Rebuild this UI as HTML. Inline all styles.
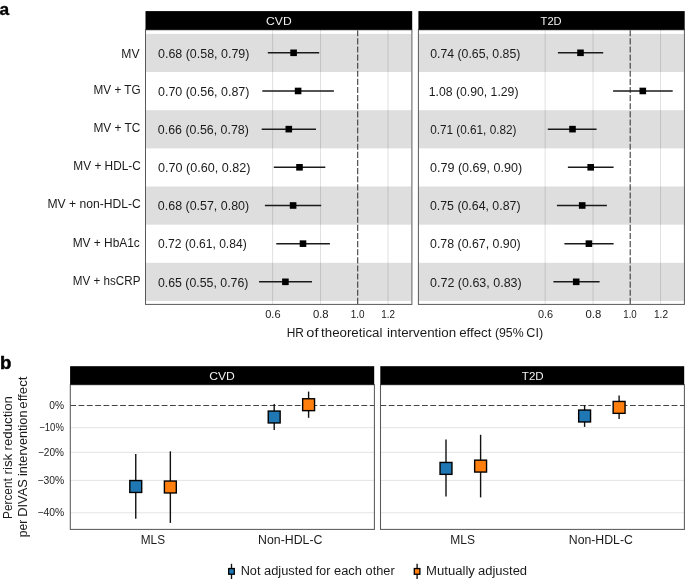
<!DOCTYPE html>
<html lang="en"><head><meta charset="utf-8"><title>Figure</title>
<style>
html,body{margin:0;padding:0;background:#fff;}
body{width:685px;height:579px;overflow:hidden;}
svg{display:block;}
text{font-family:"Liberation Sans", sans-serif;fill:#1a1a1a;}
.t12{font-size:12px;}
.t10{font-size:10.3px;}
.hd{font-size:11.7px;fill:#f2f2f2;}
.lab{font-size:17.5px;font-weight:bold;fill:#000;stroke:#000;stroke-width:0.45px;}
</style></head><body>
<svg width="685" height="579" viewBox="0 0 685 579">
<rect x="0" y="0" width="685" height="579" fill="#fff"/>

<text class="lab" x="-0.5" y="14.75" style="font-size:17.3px;stroke-width:0.35px">a</text>
<text class="t12" x="121.27" y="57.80" textLength="18.21" lengthAdjust="spacingAndGlyphs">MV</text>
<text class="t12" x="93.55" y="93.80" textLength="47.07" lengthAdjust="spacingAndGlyphs">MV + TG</text>
<text class="t12" x="93.42" y="131.70" textLength="47.00" lengthAdjust="spacingAndGlyphs">MV + TC</text>
<text class="t12" x="73.33" y="170.10" textLength="67.51" lengthAdjust="spacingAndGlyphs">MV + HDL-C</text>
<text class="t12" x="47.46" y="208.10" textLength="93.24" lengthAdjust="spacingAndGlyphs">MV + non-HDL-C</text>
<text class="t12" x="72.63" y="246.50" textLength="67.20" lengthAdjust="spacingAndGlyphs">MV + HbA1c</text>
<text class="t12" x="72.86" y="284.70" textLength="67.56" lengthAdjust="spacingAndGlyphs">MV + hsCRP</text>
<rect x="145.5" y="33.90" width="265.80" height="38.15" fill="#dedede"/>
<rect x="145.5" y="110.20" width="265.80" height="38.15" fill="#dedede"/>
<rect x="145.5" y="186.50" width="265.80" height="38.15" fill="#dedede"/>
<rect x="145.5" y="262.80" width="265.80" height="38.15" fill="#dedede"/>
<line x1="272.65" x2="272.65" y1="29.8" y2="304.4" stroke="#000" stroke-opacity="0.17" stroke-width="0.75"/>
<line x1="320.55" x2="320.55" y1="29.8" y2="304.4" stroke="#000" stroke-opacity="0.17" stroke-width="0.75"/>
<line x1="388.06" x2="388.06" y1="29.8" y2="304.4" stroke="#000" stroke-opacity="0.17" stroke-width="0.75"/>
<line x1="357.70" x2="357.70" y1="30.2" y2="304.4" stroke="#3c3c3c" stroke-width="1.1" stroke-dasharray="6.1 2.01"/>
<line x1="267.80" x2="319.20" y1="52.80" y2="52.80" stroke="#1a1a1a" stroke-width="1.5"/>
<rect x="290.30" y="49.50" width="6.6" height="6.6" fill="#000"/>
<text class="t12" x="158.03" y="57.70" textLength="91.38" lengthAdjust="spacingAndGlyphs">0.68 (0.58, 0.79)</text>
<line x1="262.30" x2="333.90" y1="90.97" y2="90.97" stroke="#1a1a1a" stroke-width="1.5"/>
<rect x="294.80" y="87.67" width="6.6" height="6.6" fill="#000"/>
<text class="t12" x="158.01" y="95.80" textLength="91.40" lengthAdjust="spacingAndGlyphs">0.70 (0.56, 0.87)</text>
<line x1="261.70" x2="316.00" y1="129.14" y2="129.14" stroke="#1a1a1a" stroke-width="1.5"/>
<rect x="285.50" y="125.84" width="6.6" height="6.6" fill="#000"/>
<text class="t12" x="157.85" y="133.90" textLength="90.99" lengthAdjust="spacingAndGlyphs">0.66 (0.56, 0.78)</text>
<line x1="273.80" x2="325.30" y1="167.31" y2="167.31" stroke="#1a1a1a" stroke-width="1.5"/>
<rect x="296.20" y="164.01" width="6.6" height="6.6" fill="#000"/>
<text class="t12" x="157.96" y="172.00" textLength="92.45" lengthAdjust="spacingAndGlyphs">0.70 (0.60, 0.82)</text>
<line x1="264.90" x2="321.20" y1="205.48" y2="205.48" stroke="#1a1a1a" stroke-width="1.5"/>
<rect x="289.80" y="202.18" width="6.6" height="6.6" fill="#000"/>
<text class="t12" x="157.87" y="210.20" textLength="91.27" lengthAdjust="spacingAndGlyphs">0.68 (0.57, 0.80)</text>
<line x1="276.30" x2="329.90" y1="243.65" y2="243.65" stroke="#1a1a1a" stroke-width="1.5"/>
<rect x="299.70" y="240.35" width="6.6" height="6.6" fill="#000"/>
<text class="t12" x="158.04" y="248.40" textLength="88.63" lengthAdjust="spacingAndGlyphs">0.72 (0.61, 0.84)</text>
<line x1="259.05" x2="312.00" y1="281.82" y2="281.82" stroke="#1a1a1a" stroke-width="1.5"/>
<rect x="282.10" y="278.52" width="6.6" height="6.6" fill="#000"/>
<text class="t12" x="157.94" y="286.70" textLength="90.45" lengthAdjust="spacingAndGlyphs">0.65 (0.55, 0.76)</text>
<rect x="145.5" y="29.8" width="266.40" height="274.60" fill="none" stroke="#595959" stroke-width="1"/>
<rect x="145.5" y="11.1" width="266.70" height="18.70" fill="#000"/>
<text class="hd" x="266.11" y="24.60" textLength="25.55" lengthAdjust="spacingAndGlyphs">CVD</text>
<text class="t10" x="265.24" y="317.50" textLength="15.36" lengthAdjust="spacingAndGlyphs">0.6</text>
<text class="t10" x="312.94" y="317.50" textLength="15.66" lengthAdjust="spacingAndGlyphs">0.8</text>
<text class="t10" x="350.66" y="317.50" textLength="13.82" lengthAdjust="spacingAndGlyphs">1.0</text>
<text class="t10" x="381.29" y="317.50" textLength="13.74" lengthAdjust="spacingAndGlyphs">1.2</text>
<rect x="418.4" y="33.90" width="265.40" height="38.15" fill="#dedede"/>
<rect x="418.4" y="110.20" width="265.40" height="38.15" fill="#dedede"/>
<rect x="418.4" y="186.50" width="265.40" height="38.15" fill="#dedede"/>
<rect x="418.4" y="262.80" width="265.40" height="38.15" fill="#dedede"/>
<line x1="545.15" x2="545.15" y1="29.8" y2="304.4" stroke="#000" stroke-opacity="0.17" stroke-width="0.75"/>
<line x1="593.05" x2="593.05" y1="29.8" y2="304.4" stroke="#000" stroke-opacity="0.17" stroke-width="0.75"/>
<line x1="660.56" x2="660.56" y1="29.8" y2="304.4" stroke="#000" stroke-opacity="0.17" stroke-width="0.75"/>
<line x1="630.20" x2="630.20" y1="30.2" y2="304.4" stroke="#3c3c3c" stroke-width="1.1" stroke-dasharray="6.1 2.01"/>
<line x1="557.90" x2="603.20" y1="52.80" y2="52.80" stroke="#1a1a1a" stroke-width="1.5"/>
<rect x="577.20" y="49.50" width="6.6" height="6.6" fill="#000"/>
<text class="t12" x="430.16" y="57.70" textLength="90.16" lengthAdjust="spacingAndGlyphs">0.74 (0.65, 0.85)</text>
<line x1="613.10" x2="672.70" y1="90.97" y2="90.97" stroke="#1a1a1a" stroke-width="1.5"/>
<rect x="639.50" y="87.67" width="6.6" height="6.6" fill="#000"/>
<text class="t12" x="428.77" y="95.80" textLength="89.70" lengthAdjust="spacingAndGlyphs">1.08 (0.90, 1.29)</text>
<line x1="547.80" x2="596.60" y1="129.14" y2="129.14" stroke="#1a1a1a" stroke-width="1.5"/>
<rect x="569.20" y="125.84" width="6.6" height="6.6" fill="#000"/>
<text class="t12" x="430.13" y="133.90" textLength="86.32" lengthAdjust="spacingAndGlyphs">0.71 (0.61, 0.82)</text>
<line x1="567.90" x2="613.60" y1="167.31" y2="167.31" stroke="#1a1a1a" stroke-width="1.5"/>
<rect x="587.40" y="164.01" width="6.6" height="6.6" fill="#000"/>
<text class="t12" x="429.92" y="172.00" textLength="92.29" lengthAdjust="spacingAndGlyphs">0.79 (0.69, 0.90)</text>
<line x1="556.90" x2="606.90" y1="205.48" y2="205.48" stroke="#1a1a1a" stroke-width="1.5"/>
<rect x="578.90" y="202.18" width="6.6" height="6.6" fill="#000"/>
<text class="t12" x="429.95" y="210.20" textLength="90.55" lengthAdjust="spacingAndGlyphs">0.75 (0.64, 0.87)</text>
<line x1="564.40" x2="613.60" y1="243.65" y2="243.65" stroke="#1a1a1a" stroke-width="1.5"/>
<rect x="585.60" y="240.35" width="6.6" height="6.6" fill="#000"/>
<text class="t12" x="430.06" y="248.40" textLength="90.64" lengthAdjust="spacingAndGlyphs">0.78 (0.67, 0.90)</text>
<line x1="553.40" x2="599.60" y1="281.82" y2="281.82" stroke="#1a1a1a" stroke-width="1.5"/>
<rect x="572.90" y="278.52" width="6.6" height="6.6" fill="#000"/>
<text class="t12" x="430.11" y="286.70" textLength="91.55" lengthAdjust="spacingAndGlyphs">0.72 (0.63, 0.83)</text>
<rect x="418.4" y="29.8" width="266.00" height="274.60" fill="none" stroke="#595959" stroke-width="1"/>
<rect x="418.4" y="11.1" width="266.30" height="18.70" fill="#000"/>
<text class="hd" x="540.60" y="24.60" textLength="21.03" lengthAdjust="spacingAndGlyphs">T2D</text>
<text class="t10" x="537.96" y="317.50" textLength="15.20" lengthAdjust="spacingAndGlyphs">0.6</text>
<text class="t10" x="585.50" y="317.50" textLength="15.77" lengthAdjust="spacingAndGlyphs">0.8</text>
<text class="t10" x="623.30" y="317.50" textLength="13.46" lengthAdjust="spacingAndGlyphs">1.0</text>
<text class="t10" x="654.01" y="317.50" textLength="14.07" lengthAdjust="spacingAndGlyphs">1.2</text>
<text class="t12" y="337.40"><tspan x="286.78" textLength="17.22" lengthAdjust="spacingAndGlyphs">HR</tspan> <tspan x="306.37" textLength="12.08" lengthAdjust="spacingAndGlyphs">of</tspan> <tspan x="321.11" textLength="61.25" lengthAdjust="spacingAndGlyphs">theoretical</tspan> <tspan x="387.06" textLength="69.08" lengthAdjust="spacingAndGlyphs">intervention</tspan> <tspan x="459.21" textLength="32.21" lengthAdjust="spacingAndGlyphs">effect</tspan> <tspan x="494.96" textLength="28.66" lengthAdjust="spacingAndGlyphs">(95%</tspan> <tspan x="526.38" textLength="16.81" lengthAdjust="spacingAndGlyphs">CI)</tspan></text>
<text class="lab" x="0.0" y="368.6" textLength="11.4" lengthAdjust="spacingAndGlyphs">b</text>
<text class="t12" transform="translate(11.70,0) rotate(-90)"><tspan x="-519.00" textLength="40.77" lengthAdjust="spacingAndGlyphs">Percent</tspan> <tspan x="-474.50" textLength="20.68" lengthAdjust="spacingAndGlyphs">risk</tspan> <tspan x="-450.50" textLength="54.50" lengthAdjust="spacingAndGlyphs">reduction</tspan></text>
<text class="t12" transform="translate(26.75,0) rotate(-90)"><tspan x="-537.23" textLength="17.55" lengthAdjust="spacingAndGlyphs">per</tspan> <tspan x="-516.81" textLength="37.56" lengthAdjust="spacingAndGlyphs">DIVAS</tspan> <tspan x="-476.00" textLength="65.45" lengthAdjust="spacingAndGlyphs">intervention</tspan> <tspan x="-408.76" textLength="32.32" lengthAdjust="spacingAndGlyphs">effect</tspan></text>
<text class="t10" x="49.32" y="408.80" textLength="14.74" lengthAdjust="spacingAndGlyphs">0%</text>
<text class="t10" x="39.33" y="430.90" textLength="24.48" lengthAdjust="spacingAndGlyphs">−10%</text>
<text class="t10" x="37.91" y="455.70" textLength="26.01" lengthAdjust="spacingAndGlyphs">−20%</text>
<text class="t10" x="37.42" y="483.70" textLength="26.76" lengthAdjust="spacingAndGlyphs">−30%</text>
<text class="t10" x="37.45" y="516.10" textLength="26.73" lengthAdjust="spacingAndGlyphs">−40%</text>
<line x1="70.3" x2="374.4" y1="427.63" y2="427.63" stroke="#000" stroke-opacity="0.14" stroke-width="0.8"/>
<line x1="70.3" x2="374.4" y1="452.36" y2="452.36" stroke="#000" stroke-opacity="0.14" stroke-width="0.8"/>
<line x1="70.3" x2="374.4" y1="480.40" y2="480.40" stroke="#000" stroke-opacity="0.14" stroke-width="0.8"/>
<line x1="70.3" x2="374.4" y1="512.77" y2="512.77" stroke="#000" stroke-opacity="0.14" stroke-width="0.8"/>
<line x1="70.2" x2="374.4" y1="405.5" y2="405.5" stroke="#444" stroke-width="1" stroke-dasharray="5.8 2.52"/>
<rect x="70.3" y="384.7" width="304.10" height="144.70" fill="none" stroke="#595959" stroke-width="1.05"/>
<rect x="70.1" y="366.2" width="304.10" height="18.50" fill="#000"/>
<text class="hd" x="209.21" y="380.00" textLength="25.64" lengthAdjust="spacingAndGlyphs">CVD</text>
<line x1="135.75" x2="135.75" y1="454.10" y2="518.80" stroke="#111" stroke-width="1.4"/>
<rect x="129.80" y="480.55" width="11.9" height="11.9" fill="#1f77b4" stroke="#000" stroke-width="1.4"/>
<line x1="170.35" x2="170.35" y1="451.30" y2="522.90" stroke="#111" stroke-width="1.4"/>
<rect x="164.40" y="481.05" width="11.9" height="11.9" fill="#ff7f0e" stroke="#000" stroke-width="1.4"/>
<text class="t12" x="140.76" y="543.60" textLength="24.28" lengthAdjust="spacingAndGlyphs">MLS</text>
<line x1="274.20" x2="274.20" y1="404.00" y2="430.00" stroke="#111" stroke-width="1.4"/>
<rect x="268.25" y="411.05" width="11.9" height="11.9" fill="#1f77b4" stroke="#000" stroke-width="1.4"/>
<line x1="308.60" x2="308.60" y1="391.60" y2="417.80" stroke="#111" stroke-width="1.4"/>
<rect x="302.65" y="398.75" width="11.9" height="11.9" fill="#ff7f0e" stroke="#000" stroke-width="1.4"/>
<text class="t12" x="258.07" y="543.60" textLength="64.34" lengthAdjust="spacingAndGlyphs">Non-HDL-C</text>
<line x1="380.5" x2="684.4" y1="427.63" y2="427.63" stroke="#000" stroke-opacity="0.14" stroke-width="0.8"/>
<line x1="380.5" x2="684.4" y1="452.36" y2="452.36" stroke="#000" stroke-opacity="0.14" stroke-width="0.8"/>
<line x1="380.5" x2="684.4" y1="480.40" y2="480.40" stroke="#000" stroke-opacity="0.14" stroke-width="0.8"/>
<line x1="380.5" x2="684.4" y1="512.77" y2="512.77" stroke="#000" stroke-opacity="0.14" stroke-width="0.8"/>
<line x1="380.4" x2="684.4" y1="405.5" y2="405.5" stroke="#444" stroke-width="1" stroke-dasharray="5.8 2.52"/>
<rect x="380.5" y="384.7" width="303.90" height="144.70" fill="none" stroke="#595959" stroke-width="1.05"/>
<rect x="380.3" y="366.2" width="303.90" height="18.50" fill="#000"/>
<text class="hd" x="521.84" y="380.00" textLength="21.89" lengthAdjust="spacingAndGlyphs">T2D</text>
<line x1="446.00" x2="446.00" y1="439.60" y2="496.50" stroke="#111" stroke-width="1.4"/>
<rect x="440.05" y="462.45" width="11.9" height="11.9" fill="#1f77b4" stroke="#000" stroke-width="1.4"/>
<line x1="480.60" x2="480.60" y1="434.80" y2="497.40" stroke="#111" stroke-width="1.4"/>
<rect x="474.65" y="460.15" width="11.9" height="11.9" fill="#ff7f0e" stroke="#000" stroke-width="1.4"/>
<text class="t12" x="450.18" y="543.60" textLength="24.74" lengthAdjust="spacingAndGlyphs">MLS</text>
<line x1="584.60" x2="584.60" y1="405.20" y2="426.90" stroke="#111" stroke-width="1.4"/>
<rect x="578.65" y="410.05" width="11.9" height="11.9" fill="#1f77b4" stroke="#000" stroke-width="1.4"/>
<line x1="619.10" x2="619.10" y1="395.60" y2="418.90" stroke="#111" stroke-width="1.4"/>
<rect x="613.15" y="401.45" width="11.9" height="11.9" fill="#ff7f0e" stroke="#000" stroke-width="1.4"/>
<text class="t12" x="568.77" y="543.60" textLength="64.13" lengthAdjust="spacingAndGlyphs">Non-HDL-C</text>
<line x1="231.5" x2="231.5" y1="563.8" y2="579" stroke="#111" stroke-width="1.35"/>
<rect x="228.70" y="568.55" width="5.6" height="5.7" fill="#1f77b4" stroke="#000" stroke-width="1.3"/>
<text class="t12" y="575.40"><tspan x="240.66" textLength="19.80" lengthAdjust="spacingAndGlyphs">Not</tspan> <tspan x="264.06" textLength="48.64" lengthAdjust="spacingAndGlyphs">adjusted</tspan> <tspan x="315.88" textLength="14.45" lengthAdjust="spacingAndGlyphs">for</tspan> <tspan x="334.05" textLength="27.89" lengthAdjust="spacingAndGlyphs">each</tspan> <tspan x="365.59" textLength="29.08" lengthAdjust="spacingAndGlyphs">other</tspan></text>
<line x1="417.1" x2="417.1" y1="563.8" y2="579" stroke="#111" stroke-width="1.35"/>
<rect x="414.30" y="568.55" width="5.6" height="5.7" fill="#ff7f0e" stroke="#000" stroke-width="1.3"/>
<text class="t12" y="575.40"><tspan x="426.10" textLength="48.79" lengthAdjust="spacingAndGlyphs">Mutually</tspan> <tspan x="477.96" textLength="49.14" lengthAdjust="spacingAndGlyphs">adjusted</tspan></text>
</svg></body></html>
